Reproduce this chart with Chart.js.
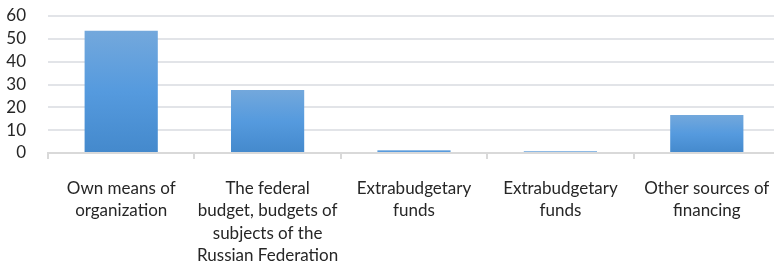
<!DOCTYPE html>
<html>
<head>
<meta charset="utf-8">
<script src="https://cdn.jsdelivr.net/npm/chart.js@4/dist/chart.umd.min.js"></script>
<style>
  html,body{margin:0;padding:0;background:#fff;overflow:hidden;}
  #wrap{width:780px;height:264px;}
</style>
</head>
<body>
<div id="wrap"><canvas id="c" width="780" height="264"></canvas></div>
<script>
const categories = [
  ["Own means of", "organization"],
  ["The federal", "budget, budgets of", "subjects of the", "Russian Federation"],
  ["Extrabudgetary", "funds"],
  ["Extrabudgetary", "funds"],
  ["Other sources of", "financing"]
];
const values = [53.5, 27.6, 1.2, 0.8, 16.6];
const yTicks = [0, 10, 20, 30, 40, 50, 60];

function barFill(ctx){
  const chart = ctx.chart;
  if(!chart.chartArea || ctx.type !== "data") return "#5b9bd5";
  const y = chart.scales.y;
  const top = y.getPixelForValue(ctx.raw);
  const bot = y.getPixelForValue(0);
  const g = chart.ctx.createLinearGradient(0, top, 0, bot);
  g.addColorStop(0, "#73a8dc");
  g.addColorStop(0.5, "#559ade");
  g.addColorStop(1, "#4489cc");
  return g;
}

const fam = "Lato, 'Open Sans', sans-serif";

new Chart(document.getElementById("c").getContext("2d"), {
  type: "bar",
  data: { labels: categories, datasets: [
    { data: values, backgroundColor: barFill, borderWidth: 0,
      categoryPercentage: 1, barPercentage: 0.5 }
  ]},
  options: {
    responsive: false, animation: false,
    layout: { padding: { left: 0, top: 16, right: 0, bottom: 0 } },
    plugins: { legend: { display: false }, tooltip: { enabled: false } },
    scales: {
      x: {
        afterFit: s => { s.height = 111; s.paddingLeft = 0; s.paddingRight = 0; },
        grid: { drawOnChartArea: false, drawTicks: true, tickLength: 6, color: "#d9d9d9", lineWidth: 2, offset: true },
        border: { color: "#d9d9d9", width: 2 },
        ticks: { color: "#262626", font: { family: fam, size: 17, lineHeight: 1.32 }, padding: 18, maxRotation: 0, autoSkip: false }
      },
      y: {
        min: 0, max: 60,
        afterBuildTicks: axis => { axis.ticks = yTicks.map(v => ({ value: v })); },
        afterFit: s => { s.width = 48; s.paddingTop = 0; s.paddingBottom = 0; },
        grid: { color: "#e2e4e8", lineWidth: 2, drawTicks: false },
        border: { display: false },
        ticks: { color: "#262626", font: { family: fam, size: 17 }, padding: 22, autoSkip: false }
      }
    }
  }
});
</script>
</body>
</html>
